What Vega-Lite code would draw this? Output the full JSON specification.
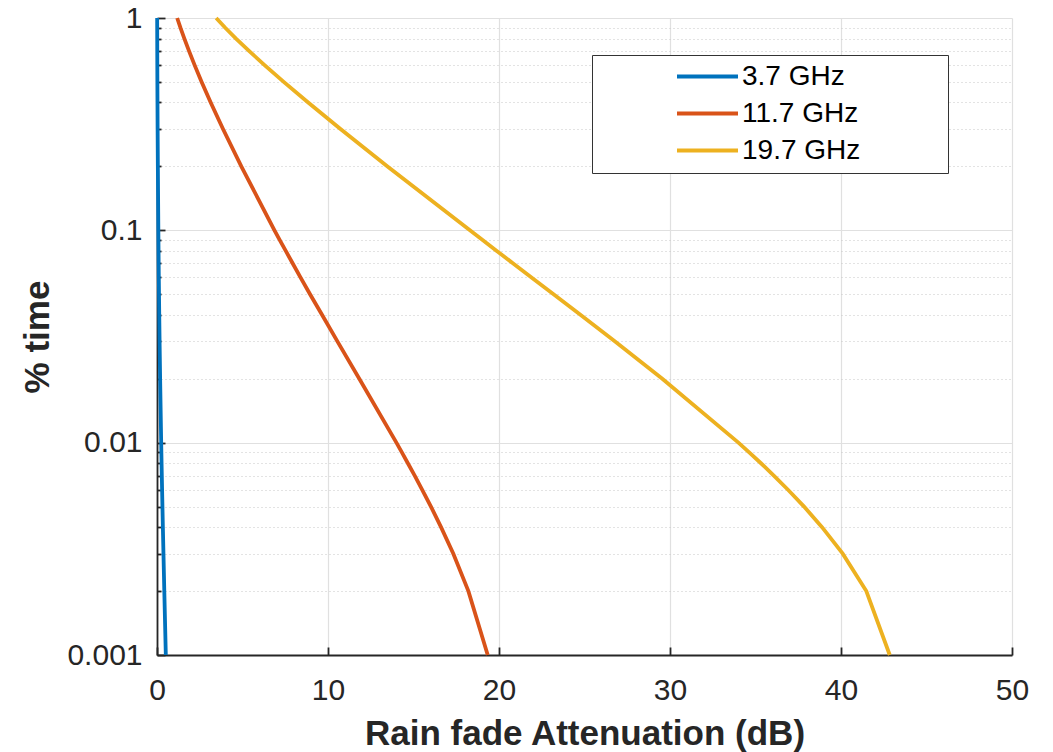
{
  "$schema": "https://vega.github.io/schema/vega-lite/v6.json",
  "width": 855,
  "height": 637,
  "autosize": {"type": "none"},
  "padding": {"left": 157, "top": 18, "right": 41, "bottom": 97},
  "background": "white",
  "config": {"view": {"stroke": null}, "font": "Liberation Sans"},
  "data": {"values": [
    {"f": "3.7 GHz", "p": 0.001, "A": 0.515},
    {"f": "3.7 GHz", "p": 0.002, "A": 0.427},
    {"f": "3.7 GHz", "p": 0.003, "A": 0.378},
    {"f": "3.7 GHz", "p": 0.004, "A": 0.343},
    {"f": "3.7 GHz", "p": 0.005, "A": 0.318},
    {"f": "3.7 GHz", "p": 0.006, "A": 0.298},
    {"f": "3.7 GHz", "p": 0.007, "A": 0.281},
    {"f": "3.7 GHz", "p": 0.008, "A": 0.267},
    {"f": "3.7 GHz", "p": 0.009, "A": 0.255},
    {"f": "3.7 GHz", "p": 0.01, "A": 0.245},
    {"f": "3.7 GHz", "p": 0.02, "A": 0.183},
    {"f": "3.7 GHz", "p": 0.03, "A": 0.151},
    {"f": "3.7 GHz", "p": 0.04, "A": 0.131},
    {"f": "3.7 GHz", "p": 0.05, "A": 0.117},
    {"f": "3.7 GHz", "p": 0.06, "A": 0.106},
    {"f": "3.7 GHz", "p": 0.07, "A": 0.097},
    {"f": "3.7 GHz", "p": 0.08, "A": 0.090},
    {"f": "3.7 GHz", "p": 0.09, "A": 0.084},
    {"f": "3.7 GHz", "p": 0.1, "A": 0.079},
    {"f": "3.7 GHz", "p": 0.2, "A": 0.050},
    {"f": "3.7 GHz", "p": 0.3, "A": 0.036},
    {"f": "3.7 GHz", "p": 0.4, "A": 0.028},
    {"f": "3.7 GHz", "p": 0.5, "A": 0.022},
    {"f": "3.7 GHz", "p": 0.6, "A": 0.018},
    {"f": "3.7 GHz", "p": 0.7, "A": 0.015},
    {"f": "3.7 GHz", "p": 0.8, "A": 0.013},
    {"f": "3.7 GHz", "p": 0.9, "A": 0.011},
    {"f": "3.7 GHz", "p": 1, "A": 0.009},
    {"f": "11.7 GHz", "p": 0.001, "A": 19.34},
    {"f": "11.7 GHz", "p": 0.002, "A": 18.21},
    {"f": "11.7 GHz", "p": 0.003, "A": 17.33},
    {"f": "11.7 GHz", "p": 0.004, "A": 16.61},
    {"f": "11.7 GHz", "p": 0.005, "A": 16.02},
    {"f": "11.7 GHz", "p": 0.006, "A": 15.51},
    {"f": "11.7 GHz", "p": 0.007, "A": 15.07},
    {"f": "11.7 GHz", "p": 0.008, "A": 14.67},
    {"f": "11.7 GHz", "p": 0.009, "A": 14.32},
    {"f": "11.7 GHz", "p": 0.01, "A": 14.00},
    {"f": "11.7 GHz", "p": 0.02, "A": 11.83},
    {"f": "11.7 GHz", "p": 0.03, "A": 10.55},
    {"f": "11.7 GHz", "p": 0.04, "A": 9.65},
    {"f": "11.7 GHz", "p": 0.05, "A": 8.95},
    {"f": "11.7 GHz", "p": 0.06, "A": 8.39},
    {"f": "11.7 GHz", "p": 0.07, "A": 7.93},
    {"f": "11.7 GHz", "p": 0.08, "A": 7.53},
    {"f": "11.7 GHz", "p": 0.09, "A": 7.18},
    {"f": "11.7 GHz", "p": 0.1, "A": 6.87},
    {"f": "11.7 GHz", "p": 0.2, "A": 4.93},
    {"f": "11.7 GHz", "p": 0.3, "A": 3.86},
    {"f": "11.7 GHz", "p": 0.4, "A": 3.14},
    {"f": "11.7 GHz", "p": 0.5, "A": 2.61},
    {"f": "11.7 GHz", "p": 0.6, "A": 2.20},
    {"f": "11.7 GHz", "p": 0.7, "A": 1.87},
    {"f": "11.7 GHz", "p": 0.8, "A": 1.60},
    {"f": "11.7 GHz", "p": 0.9, "A": 1.37},
    {"f": "11.7 GHz", "p": 1, "A": 1.18},
    {"f": "19.7 GHz", "p": 0.001, "A": 42.85},
    {"f": "19.7 GHz", "p": 0.002, "A": 41.48},
    {"f": "19.7 GHz", "p": 0.003, "A": 40.10},
    {"f": "19.7 GHz", "p": 0.004, "A": 38.89},
    {"f": "19.7 GHz", "p": 0.005, "A": 37.84},
    {"f": "19.7 GHz", "p": 0.006, "A": 36.90},
    {"f": "19.7 GHz", "p": 0.007, "A": 36.07},
    {"f": "19.7 GHz", "p": 0.008, "A": 35.32},
    {"f": "19.7 GHz", "p": 0.009, "A": 34.63},
    {"f": "19.7 GHz", "p": 0.01, "A": 34.00},
    {"f": "19.7 GHz", "p": 0.02, "A": 29.55},
    {"f": "19.7 GHz", "p": 0.03, "A": 26.77},
    {"f": "19.7 GHz", "p": 0.04, "A": 24.76},
    {"f": "19.7 GHz", "p": 0.05, "A": 23.19},
    {"f": "19.7 GHz", "p": 0.06, "A": 21.90},
    {"f": "19.7 GHz", "p": 0.07, "A": 20.81},
    {"f": "19.7 GHz", "p": 0.08, "A": 19.87},
    {"f": "19.7 GHz", "p": 0.09, "A": 19.04},
    {"f": "19.7 GHz", "p": 0.1, "A": 18.30},
    {"f": "19.7 GHz", "p": 0.2, "A": 13.48},
    {"f": "19.7 GHz", "p": 0.3, "A": 10.73},
    {"f": "19.7 GHz", "p": 0.4, "A": 8.84},
    {"f": "19.7 GHz", "p": 0.5, "A": 7.41},
    {"f": "19.7 GHz", "p": 0.6, "A": 6.29},
    {"f": "19.7 GHz", "p": 0.7, "A": 5.38},
    {"f": "19.7 GHz", "p": 0.8, "A": 4.62},
    {"f": "19.7 GHz", "p": 0.9, "A": 3.99},
    {"f": "19.7 GHz", "p": 1, "A": 3.46}
  ]},
  "mark": {"type": "line", "strokeWidth": 3.8, "clip": false},
  "encoding": {
    "x": {
      "field": "A", "type": "quantitative",
      "scale": {"domain": [0, 50], "nice": false, "zero": false},
      "axis": {
        "values": [0, 10, 20, 30, 40, 50],
        "format": "d",
        "labelFlush": false,
        "labelOverlap": false,
        "tickSize": -8,
        "tickColor": "#262626",
        "tickWidth": 1.8,
        "domainColor": "#262626",
        "domainWidth": 1.8,
        "gridColor": "#e0e0e0",
        "gridWidth": 1.2,
        "labelFontSize": 30,
        "labelColor": "#262626",
        "labelPadding": 28,
        "title": "Rain fade Attenuation (dB)",
        "titleFontSize": 35,
        "titleFontWeight": "bold",
        "titleColor": "#262626",
        "titlePadding": 11
      }
    },
    "y": {
      "field": "p", "type": "quantitative",
      "scale": {"type": "log", "domain": [0.001, 1], "nice": false},
      "axis": {
        "values": [0.001, 0.002, 0.003, 0.004, 0.005, 0.006, 0.007, 0.008, 0.009, 0.01, 0.02, 0.03, 0.04, 0.05, 0.06, 0.07, 0.08, 0.09, 0.1, 0.2, 0.3, 0.4, 0.5, 0.6, 0.7, 0.8, 0.9, 1],
        "labelExpr": "indexof([0.001, 0.01, 0.1, 1], datum.value) >= 0 ? format(datum.value, '~g') : ''",
        "labelFlush": false,
        "labelOverlap": false,
        "tickSize": {"condition": {"test": "indexof([0.001, 0.01, 0.1, 1], datum.value) >= 0", "value": -8}, "value": -4},
        "tickColor": "#262626",
        "tickWidth": 1.8,
        "domainColor": "#262626",
        "domainWidth": 1.8,
        "gridColor": {"condition": {"test": "indexof([0.001, 0.01, 0.1, 1], datum.value) >= 0", "value": "#e0e0e0"}, "value": "#c8c8c8"},
        "gridDash": {"condition": {"test": "indexof([0.001, 0.01, 0.1, 1], datum.value) >= 0", "value": []}, "value": [1, 3]},
        "gridWidth": 1.2,
        "labelFontSize": 30,
        "labelColor": "#262626",
        "labelPadding": 23,
        "title": "% time",
        "titleFontSize": 35,
        "titleFontWeight": "bold",
        "titleColor": "#262626",
        "titlePadding": 11
      }
    },
    "color": {
      "field": "f", "type": "nominal",
      "scale": {"domain": ["3.7 GHz", "11.7 GHz", "19.7 GHz"], "range": ["#0072BD", "#D95319", "#EDB120"]},
      "legend": {
        "orient": "none",
        "legendX": 435,
        "legendY": 37,
        "title": " ",
        "titleOrient": "right",
        "titleFontSize": 2,
        "titlePadding": 80,
        "strokeColor": "#333333",
        "fillColor": "white",
        "padding": 8,
        "symbolType": "stroke",
        "symbolSize": 3721,
        "symbolStrokeWidth": 4,
        "symbolOffset": 75,
        "clipHeight": 27,
        "labelFontSize": 28,
        "labelColor": "#000000",
        "labelOffset": 2,
        "rowPadding": 8
      }
    }
  }
}
